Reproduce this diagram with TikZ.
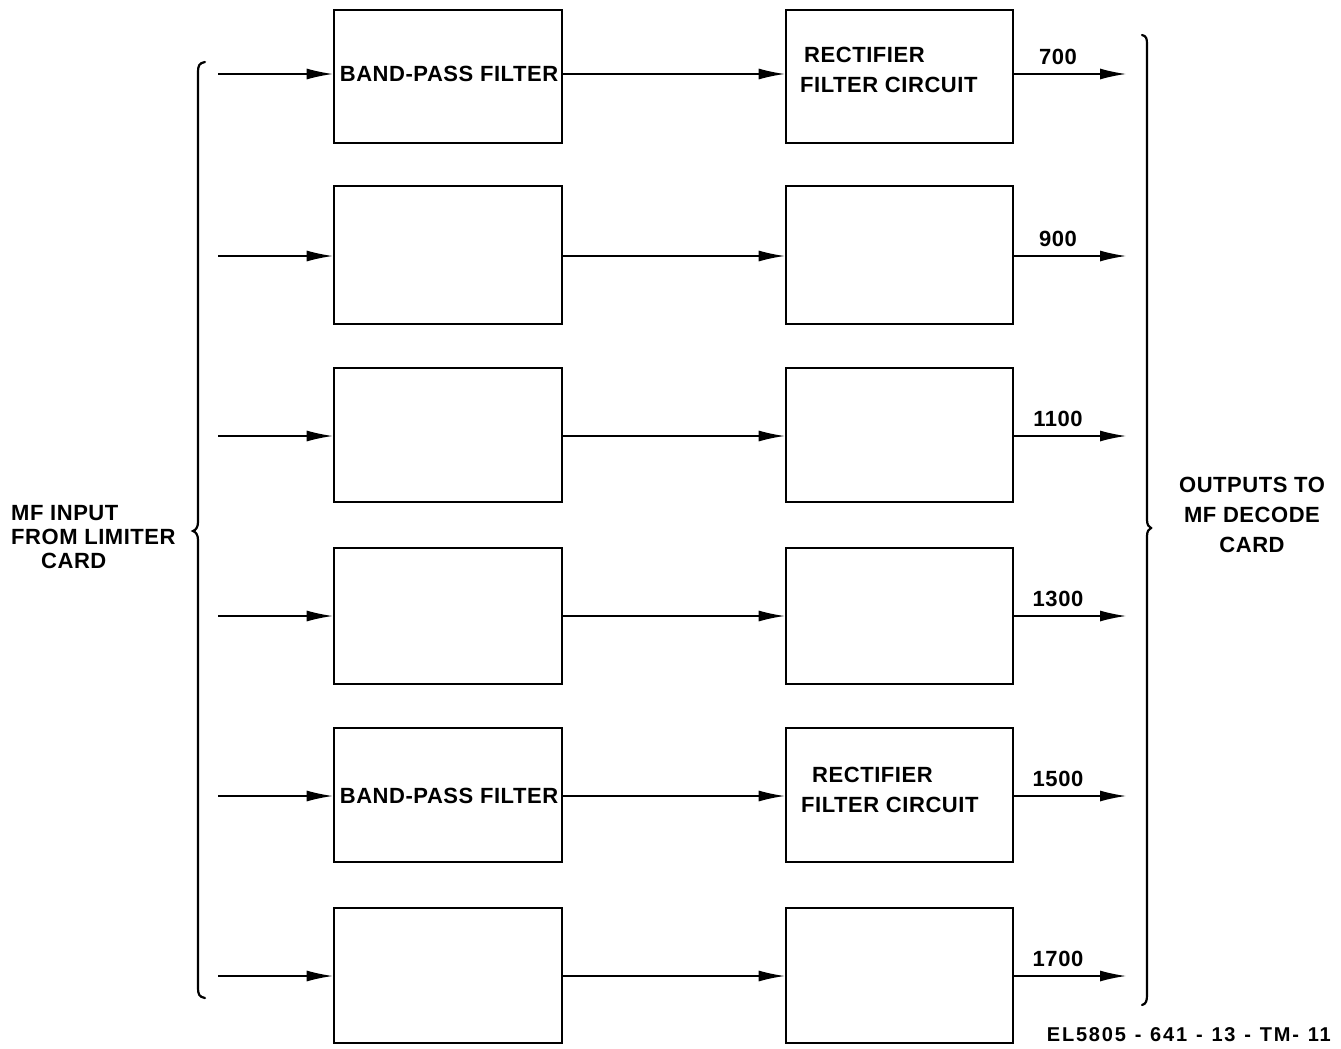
\documentclass[tikz,border=0pt]{standalone}
\usepackage{fontspec}
\setmainfont{Liberation Sans}
\newfontfamily\hv[LetterSpace=2.5]{Liberation Sans}
\newfontfamily\hvw[LetterSpace=9, WordSpace=1.2]{Liberation Sans}
\usetikzlibrary{arrows.meta}
\tikzset{
  blk/.style={draw, line width=2.6pt, rectangle, minimum width=228pt, inner sep=0pt},
  sig/.style={line width=1.4pt, -{Latex[length=26pt,width=11pt]}},
  brc/.style={line width=2.2pt, line cap=round},
  txt/.style={font=\fontsize{22}{24}\hv\bfseries, inner sep=0pt},
}
\begin{document}
\begin{tikzpicture}[x=1pt,y=-1pt]
\useasboundingbox (0,0) rectangle (1341,1049);
\foreach \i/\t/\b/\a/\f in {1/10/143/74/700, 2/186/324/256/900, 3/368/502/436/1100, 4/548/684/616/1300, 5/728/862/796/1500, 6/908/1043/976/1700}{
  \pgfmathsetmacro{\c}{(\t+\b)/2}
  \pgfmathsetmacro{\h}{\b-\t}
  \node[blk, minimum height=\h pt] (lb\i) at (448,\c) {};
  \node[blk, minimum width=227pt, minimum height=\h pt] (rb\i) at (899.5,\c) {};
  \coordinate (in\i) at (218,\a);
  \coordinate (out\i) at (1126,\a);
  \draw[sig] (in\i) -- (lb\i.west |- in\i);
  \draw[sig] (lb\i.east |- in\i) -- (rb\i.west |- in\i);
  \draw[sig] (rb\i.east |- in\i) -- (out\i);
  \node[txt, anchor=south] (f\i) at (1058,\a-9) {\f};
}
% box texts
\node[txt] (bp1) at (449,74) {BAND-PASS FILTER};
\node[txt] (bp5) at (449,796) {BAND-PASS FILTER};
\node[txt, anchor=west] (r1a) at (804,55) {RECTIFIER};
\node[txt, anchor=west] (r1b) at (800,85) {FILTER CIRCUIT};
\node[txt, anchor=west] (r5a) at (812,775) {RECTIFIER};
\node[txt, anchor=west] (r5b) at (801,805) {FILTER CIRCUIT};
% braces
\draw[brc] (205,62) .. controls (199,63) and (198,66) .. (198,72) -- (198,522)
  .. controls (198,527) and (196,530) .. (193,531)
  .. controls (196,532) and (198,535) .. (198,540) -- (198,988)
  .. controls (198,994) and (199,997) .. (205,998);
\draw[brc] (1142,35) .. controls (1146,36) and (1147,38) .. (1147,44) -- (1147,520)
  .. controls (1147,525) and (1149,527) .. (1151,528)
  .. controls (1149,529) and (1147,531) .. (1147,536) -- (1147,995)
  .. controls (1147,1001) and (1146,1004) .. (1142,1005);
% side labels
\node[txt, align=left, anchor=west] (inlbl) at (11,537) {MF INPUT\\FROM LIMITER\\\hspace*{30pt}CARD};
\node[txt, align=center, font=\fontsize{22}{30}\hv\bfseries] (outlbl) at (1252,515) {OUTPUTS TO\\MF DECODE\\CARD};
\node[txt, anchor=east, font=\fontsize{20}{22}\hvw\bfseries] (ref) at (1331,1035) {EL5805 - 641 - 13 - TM- 11};
\end{tikzpicture}
\end{document}
